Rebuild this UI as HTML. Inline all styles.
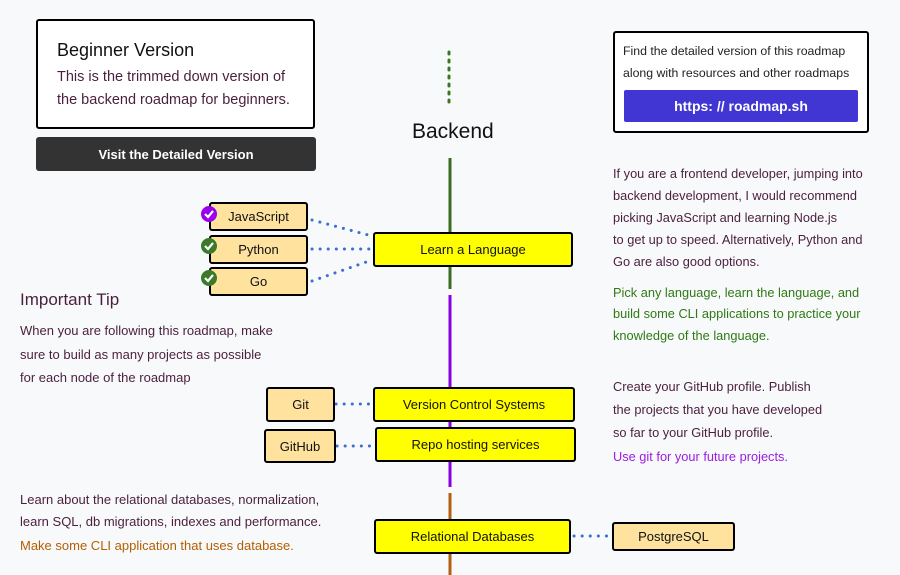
<!DOCTYPE html>
<html><head><meta charset="utf-8"><style>
*{margin:0;padding:0;box-sizing:border-box}
body{width:900px;height:575px;background:#f8f9fb;font-family:"Liberation Sans",sans-serif;position:relative;overflow:hidden}
.a{position:absolute}
.box{position:absolute;border:2px solid #000;border-radius:3px;display:flex;align-items:center;justify-content:center;font-size:13px;color:#111}
.y{background:#ffff00}
.o{background:#fee29e}
.t{position:absolute;font-size:13px;white-space:nowrap}
.r{font-size:12.8px}
.m{color:#4a1f3d}
</style></head><body>
<svg class="a" style="left:0;top:0" width="900" height="575">
<line x1="449" y1="52" x2="449" y2="102" stroke="#3a7a1f" stroke-width="3" stroke-dasharray="2 6" stroke-linecap="round"/>
<line x1="450" y1="158" x2="450" y2="289" stroke="#3d6b22" stroke-width="3"/>
<line x1="450" y1="295" x2="450" y2="487" stroke="#8800e0" stroke-width="3"/>
<line x1="450" y1="493" x2="450" y2="575" stroke="#b35f10" stroke-width="3"/>
<g stroke="#3c6fd0" stroke-width="3" stroke-dasharray="0.1 8" stroke-linecap="round" fill="none">
<line x1="312" y1="220" x2="372" y2="236"/>
<line x1="312" y1="249" x2="372" y2="249"/>
<line x1="312" y1="281" x2="372" y2="260"/>
<line x1="336" y1="404" x2="372" y2="404"/>
<line x1="337" y1="446" x2="374" y2="446"/>
<line x1="574" y1="536" x2="610" y2="536"/>
</g>
</svg>
<div class="a" style="left:36px;top:19px;width:279px;height:110px;border:2px solid #000;border-radius:3px;background:#fff"></div>
<div class="t" style="left:57px;top:40px;font-size:18px;color:#111">Beginner Version</div>
<div class="t m" style="left:57px;top:69px;font-size:14.5px">This is the trimmed down version of</div>
<div class="t m" style="left:57px;top:92px;font-size:14.5px">the backend roadmap for beginners.</div>
<div class="a" style="left:36px;top:137px;width:280px;height:34px;background:#333;border-radius:3px;color:#fff;font-weight:bold;font-size:13px;display:flex;align-items:center;justify-content:center">Visit the Detailed Version</div>
<div class="t" style="left:412px;top:120px;font-size:21px;color:#111">Backend</div>

<div class="a" style="left:613px;top:31px;width:256px;height:102px;border:2px solid #000;border-radius:3px;background:#fff"></div>
<div class="t" style="left:623px;top:44px;font-size:12.3px;color:#222">Find the detailed version of this roadmap</div>
<div class="t" style="left:623px;top:66px;font-size:12.3px;color:#222">along with resources and other roadmaps</div>
<div class="a" style="left:624px;top:90px;width:234px;height:32px;background:#4136d4;border-radius:2px;color:#fff;font-weight:bold;font-size:14px;display:flex;align-items:center;justify-content:center">https: // roadmap.sh</div>

<div class="box o" style="left:209px;top:202px;width:99px;height:29px">JavaScript</div>
<div class="box o" style="left:209px;top:235px;width:99px;height:29px">Python</div>
<div class="box o" style="left:209px;top:267px;width:99px;height:29px">Go</div>
<svg class="a" style="left:200px;top:205px" width="20" height="90">
<circle cx="9" cy="9" r="8" fill="#9900ee"/><path d="M5 9l3 3 5-6" stroke="#fff" stroke-width="2.2" fill="none"/>
<circle cx="9" cy="41" r="8" fill="#3a7a2a"/><path d="M5 41l3 3 5-6" stroke="#fff" stroke-width="2.2" fill="none"/>
<circle cx="9" cy="73" r="8" fill="#3a7a2a"/><path d="M5 73l3 3 5-6" stroke="#fff" stroke-width="2.2" fill="none"/>
</svg>
<div class="box y" style="left:373px;top:232px;width:200px;height:35px">Learn a Language</div>

<div class="t" style="left:20px;top:290px;font-size:17px;color:#4a1f3d">Important Tip</div>
<div class="t m" style="left:20px;top:323px">When you are following this roadmap, make</div>
<div class="t m" style="left:20px;top:347px">sure to build as many projects as possible</div>
<div class="t m" style="left:20px;top:370px">for each node of the roadmap</div>

<div class="t m r" style="left:613px;top:166px">If you are a frontend developer, jumping into</div>
<div class="t m r" style="left:613px;top:188px">backend development, I would recommend</div>
<div class="t m r" style="left:613px;top:210px">picking JavaScript and learning Node.js</div>
<div class="t m r" style="left:613px;top:232px">to get up to speed. Alternatively, Python and</div>
<div class="t m r" style="left:613px;top:254px">Go are also good options.</div>
<div class="t r" style="left:613px;top:285px;color:#2f7a14">Pick any language, learn the language, and</div>
<div class="t r" style="left:613px;top:306px;color:#2f7a14">build some CLI applications to practice your</div>
<div class="t r" style="left:613px;top:328px;color:#2f7a14">knowledge of the language.</div>

<div class="box o" style="left:266px;top:387px;width:69px;height:35px">Git</div>
<div class="box o" style="left:264px;top:429px;width:72px;height:34px">GitHub</div>
<div class="box y" style="left:373px;top:387px;width:202px;height:35px">Version Control Systems</div>
<div class="box y" style="left:375px;top:427px;width:201px;height:35px">Repo hosting services</div>

<div class="t m r" style="left:613px;top:379px">Create your GitHub profile. Publish</div>
<div class="t m r" style="left:613px;top:402px">the projects that you have developed</div>
<div class="t m r" style="left:613px;top:425px">so far to your GitHub profile.</div>
<div class="t r" style="left:613px;top:449px;color:#9a1ee0">Use git for your future projects.</div>

<div class="t m" style="left:20px;top:492px">Learn about the relational databases, normalization,</div>
<div class="t m" style="left:20px;top:514px">learn SQL, db migrations, indexes and performance.</div>
<div class="t" style="left:20px;top:538px;color:#b35f00">Make some CLI application that uses database.</div>

<div class="box y" style="left:374px;top:519px;width:197px;height:35px">Relational Databases</div>
<div class="box o" style="left:612px;top:522px;width:123px;height:29px">PostgreSQL</div>
</body></html>
